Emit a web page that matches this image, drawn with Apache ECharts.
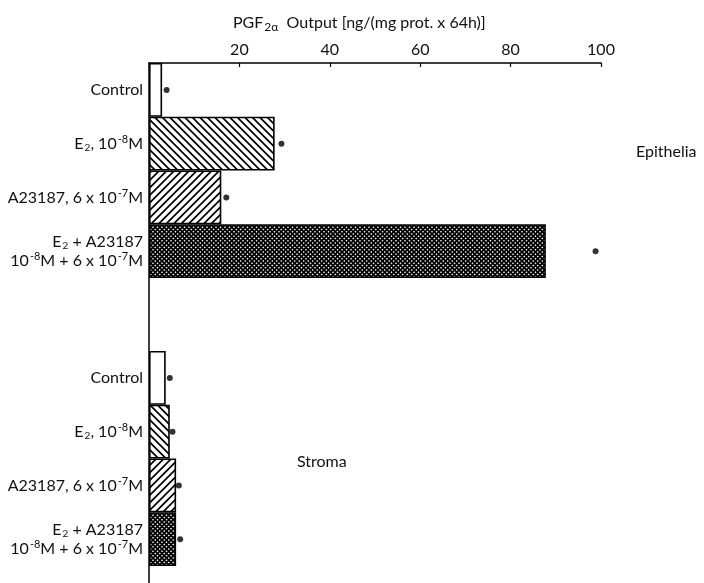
<!DOCTYPE html>
<html>
<head>
<meta charset="utf-8">
<script src="https://cdn.jsdelivr.net/npm/echarts@6/dist/echarts.min.js"></script>
<style>html,body{margin:0;padding:0;background:#fff}#c{width:704px;height:583px}</style>
</head>
<body>
<div id="c"></div>
<script>
var categories = ['Control', 'E\u2082, 10\u207B\u2078M', 'A23187, 6 x 10\u207B\u2077M', 'E\u2082 + A23187\n10\u207B\u2078M + 6 x 10\u207B\u2077M'];
var epitheliaBars = [2.9, 27.8, 16.0, 87.8];
var epitheliaDots = [3.9, 29.3, 17.1, 98.8];
var stromaBars = [3.7, 4.6, 6.0, 6.0];
var stromaDots = [4.6, 5.2, 6.6, 6.9];
var xTicks = [20, 40, 60, 80, 100];
var groupNames = ['Epithelia', 'Stroma'];

function makePattern(type) {
  var s = type === 'cross' ? 4.5 : 7.5;
  var n = type === 'cross' ? 9 : 15;
  var c = document.createElement('canvas');
  c.width = n; c.height = n;
  var g = c.getContext('2d');
  g.fillStyle = '#fff'; g.fillRect(0, 0, n, n);
  g.strokeStyle = '#000';
  g.lineWidth = type === 'cross' ? 1.8 : 1.7;
  function back() { g.beginPath(); for (var k = -n; k <= n; k += s) { g.moveTo(k - 1, -1); g.lineTo(k + n + 1, n + 1); } g.stroke(); }
  function fwd() { g.beginPath(); for (var k = 0; k <= 2 * n; k += s) { g.moveTo(k + 1, -1); g.lineTo(k - n - 1, n + 1); } g.stroke(); }
  if (type === 'back') back();
  if (type === 'fwd') fwd();
  if (type === 'cross') { back(); fwd(); }
  return { image: c, repeat: 'repeat' };
}
var fills = ['#fff', makePattern('back'), makePattern('fwd'), makePattern('cross')];

function barData(vals) {
  return vals.map(function (v, i) {
    return { value: v, itemStyle: { color: fills[i], borderColor: '#000', borderWidth: 1.6 } };
  });
}
function dotData(vals) {
  return vals.map(function (v, i) { return [v, i]; });
}

var supMap = { '\u207B': '-', '\u2077': '7', '\u2078': '8' };
var subMap = { '\u2082': '2' };
function toRich(s) {
  var out = '', mode = null, buf = '';
  function flush() { if (buf) { out += '{' + mode + '|' + buf + '}'; } buf = ''; }
  for (var i = 0; i < s.length; i++) {
    var ch = s[i];
    if (ch === '\n') { flush(); out += '\n'; mode = null; continue; }
    var m = supMap[ch] ? 'sup' : (subMap[ch] ? 'sub' : 't');
    var c2 = supMap[ch] || subMap[ch] || ch;
    if (m !== mode) { flush(); mode = m; }
    buf += c2;
  }
  flush();
  return out;
}

var FONT = 'Lato';
var chart = echarts.init(document.getElementById('c'));
var labelRich = {
  t: { fontFamily: FONT, fontSize: 16, color: '#111', lineHeight: 19 },
  sup: { fontFamily: FONT, fontSize: 11, color: '#111', lineHeight: 12, verticalAlign: 'top', padding: [0, 0, 0, 1] },
  sub: { fontFamily: FONT, fontSize: 10, color: '#111', lineHeight: 10, verticalAlign: 'bottom', padding: [0, 0, 0, 1] }
};
var yCat = {
  type: 'category', inverse: true, data: categories,
  axisLine: { show: false }, axisTick: { show: false },
  axisLabel: { margin: 6, align: 'right', formatter: toRich, rich: labelRich }
};
chart.setOption({
  animation: false,
  title: {
    text: '{a|PGF}{s|2\u03B1}{a|  Output [ng/(mg prot. x 64h)]}',
    left: 228, top: 8,
    textStyle: { rich: {
      a: { fontFamily: FONT, fontSize: 16, fontWeight: 'normal', color: '#111', lineHeight: 20 },
      s: { fontFamily: FONT, fontSize: 12, fontWeight: 'normal', color: '#111', lineHeight: 12, verticalAlign: 'bottom', padding: [0, 0, 0, 1] }
    } }
  },
  grid: [
    { left: 149, right: 103, top: 63, height: 215 },
    { left: 149, right: 103, top: 351, height: 215 },
    { left: 149, right: 103, top: 63, bottom: 0 }
  ],
  xAxis: [
    { gridIndex: 0, type: 'value', position: 'top', min: 0, max: 100, interval: 20,
      axisLine: { show: true, lineStyle: { color: '#000', width: 1.5 } },
      axisTick: { show: true, inside: true, length: 4, lineStyle: { color: '#000', width: 1.2 } },
      splitLine: { show: false },
      axisLabel: { fontFamily: FONT, fontSize: 16, color: '#111', margin: 5,
        formatter: function (v) { return xTicks.indexOf(v) >= 0 ? String(v) : ''; } } },
    { gridIndex: 1, type: 'value', min: 0, max: 100, show: false },
    { gridIndex: 2, type: 'value', min: 0, max: 100, show: false }
  ],
  yAxis: [
    Object.assign({ gridIndex: 0 }, yCat),
    Object.assign({ gridIndex: 1 }, yCat),
    { gridIndex: 2, type: 'value', min: 0, max: 1,
      axisLine: { show: true, onZero: false, lineStyle: { color: '#000', width: 1.5 } },
      axisTick: { show: false }, axisLabel: { show: false }, splitLine: { show: false } }
  ],
  graphic: [
    { type: 'text', left: 636, top: 144, style: { text: groupNames[0], fontFamily: FONT, fontSize: 16, fill: '#111' } },
    { type: 'text', left: 297, top: 454, style: { text: groupNames[1], fontFamily: FONT, fontSize: 16, fill: '#111' } }
  ],
  series: [
    { type: 'bar', xAxisIndex: 0, yAxisIndex: 0, data: barData(epitheliaBars), barCategoryGap: 0, z: 2 },
    { type: 'bar', xAxisIndex: 1, yAxisIndex: 1, data: barData(stromaBars), barCategoryGap: 0, z: 2 },
    { type: 'scatter', xAxisIndex: 0, yAxisIndex: 0, data: dotData(epitheliaDots), symbolSize: 6, itemStyle: { color: '#000' }, z: 3 },
    { type: 'scatter', xAxisIndex: 1, yAxisIndex: 1, data: dotData(stromaDots), symbolSize: 6, itemStyle: { color: '#000' }, z: 3 }
  ]
});
</script>
</body>
</html>
